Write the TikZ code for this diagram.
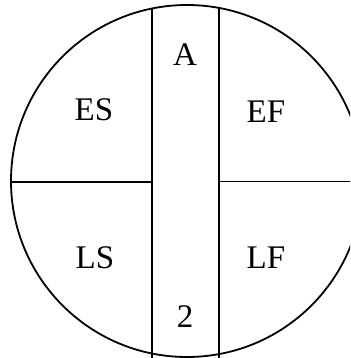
\documentclass[tikz,border=0pt]{standalone}
\usepackage{fontspec}
\setmainfont{Liberation Serif}
\usepackage{xcolor}
\usepackage{tikz}
\usetikzlibrary{calc}

\begin{document}
\begin{tikzpicture}[
    x=1pt, y=-1pt,
    rim/.style={line width=1.8pt, black},
    lbl/.style={inner sep=0pt, font=\fontsize{33}{36}\selectfont}
  ]
    \useasboundingbox (0,0) rectangle (350,358);
    \clip (0,0) rectangle (350,358);

    % node circle and its dividing lines
    \coordinate (c) at (187,181);
    \coordinate (sl_top) at (152,8.5);
    \coordinate (sl_bot) at (152,360);
    \coordinate (sr_top) at (219,7.9);
    \coordinate (sr_bot) at (219,360);
    \coordinate (hl_a) at (11,182);
    \coordinate (hl_b) at (152,182);
    \coordinate (hr_a) at (219,181.5);
    \coordinate (hr_b) at (363,181.5);

    \draw[rim] (c) circle[radius=176];
    \draw[rim] (sl_top) -- (sl_bot);
    \draw[rim] (sr_top) -- (sr_bot);
    \draw[rim] (hl_a) -- (hl_b);
    \draw[rim] (hr_a) -- (hr_b);

    \node[lbl] (act) at (185,55) {A};
    \node[lbl] (es) at (94,110) {ES};
    \node[lbl] (ef) at (266,112) {EF};
    \node[lbl] (ls) at (95,258) {LS};
    \node[lbl] (lf) at (266,258) {LF};
    \node[lbl] (dur) at (185,317) {2};
  \end{tikzpicture}
\end{document}
